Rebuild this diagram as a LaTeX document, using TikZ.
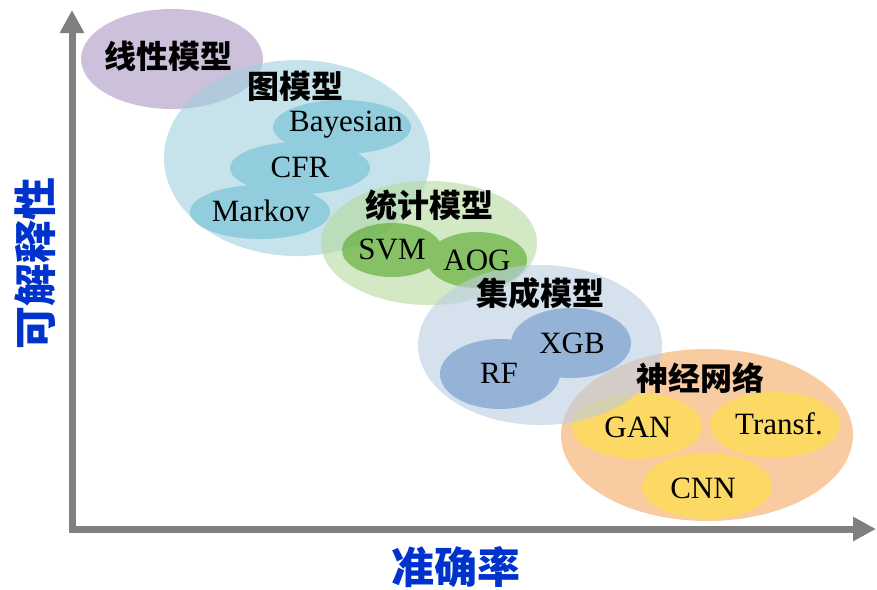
\documentclass[tikz,border=0pt]{standalone}
\usepackage{fontspec}
\setmainfont{Liberation Serif}
\newfontfamily\cjk{Noto Sans CJK SC}
\usetikzlibrary{arrows.meta}
\definecolor{purpleG}{RGB}{172,150,193}
\definecolor{blueG}{RGB}{160,207,220}
\definecolor{blueI}{RGB}{111,191,211}
\definecolor{greenG}{RGB}{182,217,157}
\definecolor{greenI}{RGB}{84,168,38}
\definecolor{orangeG}{RGB}{245,168,97}
\definecolor{yellowI}{RGB}{255,226,63}
\definecolor{ensG}{RGB}{187,205,227}
\definecolor{ensI}{RGB}{106,148,200}
\definecolor{axisgray}{RGB}{127,127,127}
\definecolor{axisblue}{RGB}{0,51,204}
\tikzset{
  blob/.style={fill opacity=0.6},
  grouplabel/.style={font=\cjk\bfseries\fontsize{32}{36}\selectfont, inner sep=0pt},
  itemlabel/.style={font=\fontsize{31}{34}\selectfont, inner sep=0pt},
  axislabel/.style={font=\cjk\bfseries\fontsize{43}{46}\selectfont, text=axisblue, inner sep=0pt},
  axistip/.tip={Triangle[length=23pt,width=23pt]}
}
\begin{document}
\begin{tikzpicture}[x=1pt,y=-1pt]
\useasboundingbox (0,0) rectangle (877,589);
% linear
\fill[purpleG, blob] (172,59) ellipse [x radius=91pt, y radius=50pt];
% graph models
\fill[blueG, blob] (297,158) ellipse [x radius=133pt, y radius=98pt];
\fill[blueI, blob] (342,127) ellipse [x radius=69pt, y radius=27pt]
  (300,168) ellipse [x radius=70pt, y radius=26pt]
  (260,212) ellipse [x radius=70pt, y radius=27pt];
% statistical models
\fill[greenG, blob] (429,243) ellipse [x radius=108pt, y radius=62pt];
\fill[greenI, blob] (392,250) ellipse [x radius=50pt, y radius=27pt]
  (477,260) ellipse [x radius=50pt, y radius=28pt];
% neural networks
\fill[orangeG, blob] (707,435) ellipse [x radius=146pt, y radius=86pt];
\fill[yellowI, blob] (637,426) ellipse [x radius=65pt, y radius=33pt]
  (775,425) ellipse [x radius=65pt, y radius=33pt]
  (707,486) ellipse [x radius=65pt, y radius=33pt];
% ensemble models
\fill[ensG, blob] (540,345) ellipse [x radius=122pt, y radius=80pt];
\fill[ensI, blob] (571,343) ellipse [x radius=60pt, y radius=35pt]
  (500,374) ellipse [x radius=60pt, y radius=35pt];
% axes
\coordinate (ytop) at (72,10);
\coordinate (origin) at (72,529);
\coordinate (xend) at (876,529);
\draw[axisgray, line width=7pt, axistip-axistip] (ytop) -- (origin) -- (xend);
% labels
\node[grouplabel] (lin) at (168,56) {线性模型};
\node[grouplabel] (graph) at (295,86) {图模型};
\node[itemlabel] (bayes) at (346,125) {Bayesian};
\node[itemlabel] (cfr) at (300,167) {CFR};
\node[itemlabel] (markov) at (261,211) {Markov};
\node[grouplabel] (stat) at (429,205) {统计模型};
\node[itemlabel] (svm) at (392,249) {SVM};
\node[itemlabel] (aog) at (477,260) {AOG};
\node[grouplabel] (ens) at (540,293) {集成模型};
\node[itemlabel] (xgb) at (572,343) {XGB};
\node[itemlabel] (rf) at (499,373) {RF};
\node[grouplabel] (nn) at (700,378) {神经网络};
\node[itemlabel] (gan) at (638,427) {GAN};
\node[itemlabel] (transf) at (779,424) {Transf.};
\node[itemlabel] (cnn) at (703,488) {CNN};
\node[axislabel] (xlab) at (456,567) {准确率};
\node[axislabel, rotate=90] (ylab) at (35,263) {可解释性};
\end{tikzpicture}
\end{document}
